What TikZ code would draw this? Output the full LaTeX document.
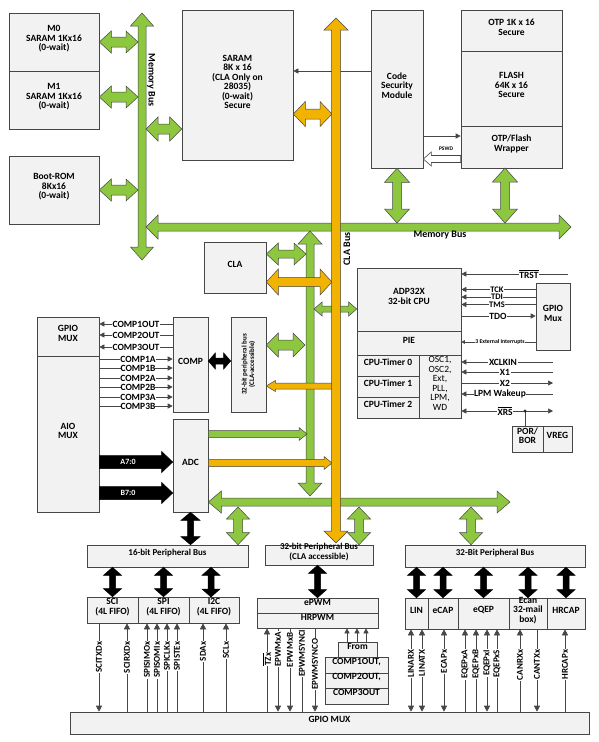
\documentclass[tikz,border=0pt]{standalone}
\usepackage{fontspec}
\setmainfont{Carlito}
\usetikzlibrary{calc,arrows.meta,shadows,fit}
\definecolor{grn}{RGB}{141,198,63}
\definecolor{org}{RGB}{242,178,0}
\definecolor{edg}{RGB}{70,70,70}
\definecolor{bxf}{RGB}{242,242,242}
% horizontal double fat arrow: style, left tip, right tip, shaft half, head half, head length
\newcommand\HDA[6]{\draw[#1] let \p1=#2, \p2=#3 in (\x1,\y1) -- (\x1+#6,\y1+#5) -- (\x1+#6,\y1+#4) -- (\x2-#6,\y1+#4) -- (\x2-#6,\y1+#5) -- (\x2,\y1) -- (\x2-#6,\y1-#5) -- (\x2-#6,\y1-#4) -- (\x1+#6,\y1-#4) -- (\x1+#6,\y1-#5) -- cycle;}
% vertical double fat arrow: style, top tip, bottom tip, ...
\newcommand\VDA[6]{\draw[#1] let \p1=#2, \p2=#3 in (\x1,\y1) -- (\x1+#5,\y1-#6) -- (\x1+#4,\y1-#6) -- (\x1+#4,\y2+#6) -- (\x1+#5,\y2+#6) -- (\x1,\y2) -- (\x1-#5,\y2+#6) -- (\x1-#4,\y2+#6) -- (\x1-#4,\y1-#6) -- (\x1-#5,\y1-#6) -- cycle;}
% right pointing fat arrow: style, tail, tip, ...
\newcommand\HRA[6]{\draw[#1] let \p1=#2, \p2=#3 in (\x1,\y1+#4) -- (\x2-#6,\y1+#4) -- (\x2-#6,\y1+#5) -- (\x2,\y1) -- (\x2-#6,\y1-#5) -- (\x2-#6,\y1-#4) -- (\x1,\y1-#4) -- cycle;}
% left pointing fat arrow: style, tip, tail, ...
\newcommand\HLA[6]{\draw[#1] let \p1=#2, \p2=#3 in (\x1,\y1) -- (\x1+#6,\y1+#5) -- (\x1+#6,\y1+#4) -- (\x2,\y1+#4) -- (\x2,\y1-#4) -- (\x1+#6,\y1-#4) -- (\x1+#6,\y1-#5) -- cycle;}
\newcommand\bx[7][]{\node[box,fit={(#3,#4) (#5,#6)},#1] (#2) {#7};}
\newcommand\ovl[1]{$\overline{\mbox{#1}}$}
\begin{document}
\begin{tikzpicture}[x=1pt,y=-1pt,font=\bfseries\fontsize{9.5}{9.5}\selectfont,
  box/.style={draw=edg,fill=bxf,line width=0.6pt,inner sep=0pt,align=center,
    drop shadow={shadow xshift=1pt,shadow yshift=-1pt,opacity=0.25}},
  gar/.style={draw=edg,fill=grn,line width=0.5pt},
  oar/.style={draw=edg,fill=org,line width=0.5pt},
  kar/.style={draw=black,fill=black,line width=0.5pt},
  sig/.style={draw=edg,line width=0.6pt},
  ah/.style={-{Triangle[length=5pt,width=5pt]}},
  ahb/.style={{Triangle[length=5pt,width=5pt]}-{Triangle[length=5pt,width=5pt]}},
  sgdn/.style={-{Triangle[length=6pt,width=6pt]}},
  sgup/.style={{Triangle[length=6pt,width=6pt]}-},
  sgbo/.style={{Triangle[length=6pt,width=6pt]}-{Triangle[length=6pt,width=6pt]}},
  lbl/.style={fill=white,inner sep=0.6pt},
  vl/.style={lbl,rotate=90,anchor=east,font=\bfseries\fontsize{9}{9}\selectfont}]
\useasboundingbox (0,0) rectangle (599,742);

% ---------- boxes ----------
\bx{m0}{9}{13}{99}{71}{M0\\SARAM 1Kx16\\(0-wait)}
\bx{m1}{9}{71}{99}{129}{M1\\SARAM 1Kx16\\(0-wait)}
\bx{brom}{9}{156}{99}{224}{Boot-ROM\\8Kx16\\(0-wait)}
\bx{saram}{182}{10}{293}{160}{SARAM\\8K x 16\\(CLA Only on\\28035)\\(0-wait)\\Secure}
\bx{csm}{371}{10}{423}{168}{Code\\Security\\Module}
\bx{otp}{461}{10}{562}{51}{OTP 1K x 16\\Secure}
\bx{flash}{461}{51}{562}{126}{FLASH\\64K x 16\\Secure}
\bx{wrap}{461}{126}{562}{168}{OTP/Flash\\Wrapper}
\bx{cla}{204}{242}{266}{293}{CLA}
\bx{cpu}{357}{268}{461}{331}{ADP32X\\32-bit CPU}
\bx{pie}{357}{331}{461}{355}{PIE}
\bx{t0}{357}{355}{419}{376}{CPU-Timer 0}
\bx{t1}{357}{376}{419}{397}{CPU-Timer 1}
\bx{t2}{357}{397}{419}{418}{CPU-Timer 2}
\bx[font=\mdseries\fontsize{9.5}{9.5}\selectfont]{osc}{419}{355}{461}{418}{OSC1,\\OSC2,\\Ext,\\PLL,\\LPM,\\WD}
\bx{gmux}{536}{283}{570}{350}{GPIO\\Mux}
\bx{por}{512}{426}{543}{452}{POR/\\BOR}
\bx{vreg}{543}{426}{572}{452}{VREG}
\bx{gm1}{37}{317}{99}{356}{GPIO\\MUX}
\bx{aio}{37}{356}{99}{512}{AIO\\MUX}
\bx{comp}{173}{317}{208}{412}{COMP}
\bx{pv}{231}{317}{266}{412}{}
\node[rotate=90,align=center,font=\bfseries\fontsize{7}{7.5}\selectfont] at (pv.center) {32-bit peripheral bus\\(CLA-accessible)};
\bx{adc}{173}{419}{208}{512}{ADC}
\bx[font=\bfseries\fontsize{9}{9.5}\selectfont]{bus16}{87}{545}{248}{567}{16-bit Peripheral Bus}
\bx{sci}{87}{597}{138}{623}{SCI\\(4L FIFO)}
\bx{spi}{138}{597}{189}{623}{SPI\\(4L FIFO)}
\bx{i2c}{189}{597}{239}{623}{I2C\\(4L FIFO)}
\bx[font=\bfseries\fontsize{9}{9.5}\selectfont]{bus32c}{265}{545}{373}{565}{32-bit Peripheral Bus\\(CLA accessible)}
\bx{epwm}{257}{598}{378}{613}{ePWM}
\bx{hrpwm}{257}{613}{378}{628}{HRPWM}
\bx{from}{338}{642}{377}{657}{From}
\bx{cout1}{325}{657}{388}{673}{COMP1OUT,}
\bx{cout2}{325}{673}{388}{688}{COMP2OUT,}
\bx{cout3}{325}{688}{388}{704}{COMP3OUT}
\bx[font=\bfseries\fontsize{9}{9.5}\selectfont]{bus32r}{405}{545}{585}{567}{32-Bit Peripheral Bus}
\bx{lin}{405}{598}{428}{629}{LIN}
\bx{ecap}{428}{598}{458}{629}{eCAP}
\bx{eqep}{458}{598}{509}{629}{eQEP}
\bx{ecan}{509}{598}{547}{629}{Ecan\\32-mail\\box)}
\bx{hrcap}{547}{598}{585}{629}{HRCAP}
\bx{gpiomux}{70}{712}{589}{734}{GPIO MUX}

% ---------- thin signal lines ----------
\coordinate (k) at (0,71);  \draw[sig,ah] (k -| csm.west) -- (k -| saram.east);
\coordinate (k) at (0,136); \draw[sig,ah] (k -| csm.east) -- (k -| wrap.west);
\coordinate (k) at (0,159);
\HLA{draw=edg,fill=white,line width=0.6pt}{(k -| csm.east)}{(k -| wrap.west)}{3.5pt}{7pt}{8pt}
\node[font=\bfseries\fontsize{5.5}{6}\selectfont,inner sep=0pt] at (446,149) {PSWD};

% CPU side
\coordinate (trst) at (568,274);
\draw[sig,ah] (trst) -- (trst -| cpu.east);
\node[lbl] at (529,274) {\ovl{TRST}};
\foreach \y/\t in {289.5/TCK,297/TDI,304.5/TMS}{
  \coordinate (q) at (0,\y);
  \draw[sig,ah] (q -| gmux.west) -- (q -| cpu.east);
  \node[lbl,inner sep=0pt,font=\bfseries\fontsize{8.5}{8.5}\selectfont] at (497,\y) {\t};}
\coordinate (q) at (0,316);
\draw[sig,ah] (q -| cpu.east) -- (q -| gmux.west);
\node[lbl] at (498,316) {TDO};
\coordinate (q) at (0,342);
\draw[sig,{Triangle[length=3.5pt,width=3.5pt]}-] (q -| pie.east) -- (q -| gmux.west);
\node[lbl,font=\bfseries\fontsize{5.8}{6}\selectfont] at (500,342) {3 External Interrupts};
\coordinate (xr) at (553,0);
\foreach \y/\t/\xx in {362/XCLKIN/503,372/X1/505,394/LPM Wakeup/500}{
  \coordinate (q) at (0,\y);
  \draw[sig,ah] (q -| xr) -- (q -| osc.east);
  \node[lbl] at (\xx,\y) {\t};}
\coordinate (q) at (0,383);
\draw[sig,ah] (q -| osc.east) -- (q -| xr);
\node[lbl] at (505,383) {X2};
\coordinate (q) at (0,411);
\draw[sig,ahb] (q -| osc.east) -- (q -| xr);
\node[lbl] at (505,411) {\ovl{XRS}};
\coordinate (dot) at (525,411);
\draw[sig] (dot) -- (dot |- por.north);
\fill[edg!60!black] (dot) circle (1.6pt);

% COMP side
\foreach \y/\t in {324/COMP1OUT,335/COMP2OUT,347/COMP3OUT}{
  \coordinate (q) at (0,\y);
  \draw[sig,ah] (q -| comp.west) -- (q -| gm1.east);
  \node[lbl] at (136,\y) {\t};}
\foreach \y/\t in {359/COMP1A,368/COMP1B,378/COMP2A,387/COMP2B,397/COMP3A,406/COMP3B}{
  \coordinate (q) at (0,\y);
  \draw[sig,ah] (q -| aio.east) -- (q -| comp.west);
  \node[lbl,inner sep=0pt] at (138,\y) {\t};}

% bottom signals
\foreach \xp/\dd/\t in {99/sgdn/SCITXDx,127/sgup/SCIRXDx}{
  \coordinate (p) at (\xp,0);
  \draw[sig,\dd] (p |- sci.south) -- (p |- gpiomux.north);
  \node[vl] at (\xp,641) {\t};}
\foreach \xp/\t in {147/SPISIMOx,157/SPISOMIx,167/SPICLKx,177/SPISTEx}{
  \coordinate (p) at (\xp,0);
  \draw[sig,sgup] (p |- spi.south) -- (p |- gpiomux.north);
  \node[vl] at (\xp,641) {\t};}
\foreach \xp/\t in {203/SDAx,226/SCLx}{
  \coordinate (p) at (\xp,0);
  \draw[sig,sgup] (p |- i2c.south) -- (p |- gpiomux.north);
  \node[vl] at (\xp,641) {\t};}
\foreach \xp/\dd/\t/\yy in {267/sgup/\ovl{TZx}/652,278/sgdn/EPWMxA/631,290/sgdn/EPWMxB/632,302/sgup/EPWMSYNCI/629,315/sgdn/EPWMSYNCO/638}{
  \coordinate (p) at (\xp,0);
  \draw[sig,\dd] (p |- hrpwm.south) -- (p |- gpiomux.north);
  \node[vl] at (\xp,\yy) {\t};}
\foreach \xp in {347,357,366}{
  \coordinate (p) at (\xp,0);
  \draw[sig,ah] (p |- from.north) -- (p |- hrpwm.south);}
\foreach \xp/\dd/\t in {411/sgbo/LINARX,422/sgbo/LINATX,444/sgbo/ECAPx,465/sgup/EQEPxA,476/sgup/EQEPxB,487/sgbo/EQEPxI,497/sgup/EQEPxS,520/sgup/CANRXx,537/sgdn/CANTXx,565/sgup/HRCAPx}{
  \coordinate (p) at (\xp,0);
  \draw[sig,\dd] (p |- lin.south) -- (p |- gpiomux.north);
  \node[vl] at (\xp,649) {\t};}

% ---------- green fat arrows ----------
\coordinate (mbL) at (138,0);
\VDA{gar}{(142,13)}{(142,260)}{4pt}{11.5pt}{13pt}
\HDA{gar}{(146,227)}{(571,227)}{4pt}{12pt}{12pt}
\HDA{gar}{(m0.east)}{(m0.east -| mbL)}{5pt}{11pt}{12pt}
\HDA{gar}{($(m1.east)+(0,-3)$)}{($(m1.east -| mbL)+(0,-3)$)}{5pt}{11pt}{12pt}
\HDA{gar}{(brom.east)}{(brom.east -| mbL)}{5pt}{11pt}{12pt}
\coordinate (k) at (146,129);
\HDA{gar}{(k)}{(k -| saram.west)}{5pt}{12pt}{12pt}
\coordinate (mbT) at (0,223);
\VDA{gar}{(csm.south)}{(csm.south |- mbT)}{4.5pt}{12.5pt}{14pt}
\coordinate (wa) at (505,168);
\VDA{gar}{(wa)}{(wa |- mbT)}{4.5pt}{12.5pt}{14pt}
\VDA{gar}{(310,231)}{(310,496)}{4pt}{12pt}{13pt}
\coordinate (k) at (306,254);
\HDA{gar}{(k -| cla.east)}{(k)}{4pt}{11pt}{12pt}
\coordinate (k) at (314,309);
\HDA{gar}{(k)}{(k -| cpu.west)}{3pt}{7pt}{8pt}
\coordinate (k) at (305,345);
\HDA{gar}{(k -| pv.east)}{(k)}{5pt}{12pt}{12pt}
\coordinate (k) at (307,434);
\HRA{gar}{(k -| adc.east)}{(k)}{3.5pt}{6.5pt}{8pt}
\coordinate (lb) at (510,502);
\HDA{gar}{(lb -| adc.east)}{(lb)}{4pt}{11pt}{13pt}
\coordinate (k) at (238,507);
\VDA{gar}{(k)}{(k |- bus16.north)}{4.5pt}{11.5pt}{12pt}
\coordinate (k) at (359,507);
\VDA{gar}{(k)}{(k |- bus32c.north)}{4.5pt}{11.5pt}{12pt}
\coordinate (k) at (471,507);
\VDA{gar}{(k)}{(k |- bus32r.north)}{4.5pt}{11.5pt}{12pt}

% ---------- orange fat arrows ----------
\coordinate (k) at (332,114);
\HDA{oar}{(k -| saram.east)}{(k)}{5pt}{12.5pt}{12pt}
\coordinate (k) at (332,282);
\HDA{oar}{(k -| cla.east)}{(k)}{4.5pt}{13pt}{12pt}
\coordinate (k) at (332,386);
\HLA{oar}{(k -| pv.east)}{(k)}{3pt}{5.5pt}{9pt}
\coordinate (k) at (332,463);
\HRA{oar}{(k -| adc.east)}{(k)}{3.5pt}{6.5pt}{8pt}
\VDA{oar}{(336,18)}{(336,543)}{4.5pt}{12pt}{12pt}

% ---------- black fat arrows ----------
\coordinate (k) at (0,361);
\HDA{kar}{(k -| comp.east)}{(k -| pv.west)}{3pt}{8pt}{7pt}
\coordinate (k) at (0,462);
\HRA{kar}{(k -| aio.east)}{(k -| adc.west)}{6.5pt}{10.5pt}{11pt}
\node[white,font=\bfseries\fontsize{8}{8}\selectfont] at (128,462) {A7:0};
\coordinate (k) at (0,493);
\HRA{kar}{(k -| aio.east)}{(k -| adc.west)}{6.5pt}{10.5pt}{11pt}
\node[white,font=\bfseries\fontsize{8}{8}\selectfont] at (128,493) {B7:0};
\VDA{kar}{(adc.south)}{(adc.south |- bus16.north)}{3pt}{9.5pt}{8pt}
\VDA{kar}{(sci.north |- bus16.south)}{(sci.north)}{3pt}{9pt}{8pt}
\VDA{kar}{(spi.north |- bus16.south)}{(spi.north)}{3pt}{9pt}{8pt}
\coordinate (k) at (211,597);
\VDA{kar}{(k |- bus16.south)}{(k)}{3pt}{9pt}{8pt}
\VDA{kar}{(epwm.north |- bus32c.south)}{(epwm.north)}{3pt}{9pt}{8pt}
\VDA{kar}{(lin.north |- bus32r.south)}{(lin.north)}{3pt}{9pt}{8pt}
\VDA{kar}{(ecap.north |- bus32r.south)}{(ecap.north)}{3pt}{9pt}{8pt}
\VDA{kar}{(eqep.north |- bus32r.south)}{(eqep.north)}{3pt}{9pt}{8pt}
\VDA{kar}{(ecan.north |- bus32r.south)}{(ecan.north)}{3pt}{9pt}{8pt}
\VDA{kar}{(hrcap.north |- bus32r.south)}{(hrcap.north)}{3pt}{9pt}{8pt}

% ---------- bus labels ----------
\node[rotate=-90,font=\bfseries\fontsize{10}{10}\selectfont] at (151,80) {Memory Bus};
\node[rotate=90,font=\bfseries\fontsize{10}{10}\selectfont] at (347,249) {CLA Bus};
\node[font=\bfseries\fontsize{10}{10}\selectfont] at (440,235) {Memory Bus};
\end{tikzpicture}
\end{document}
